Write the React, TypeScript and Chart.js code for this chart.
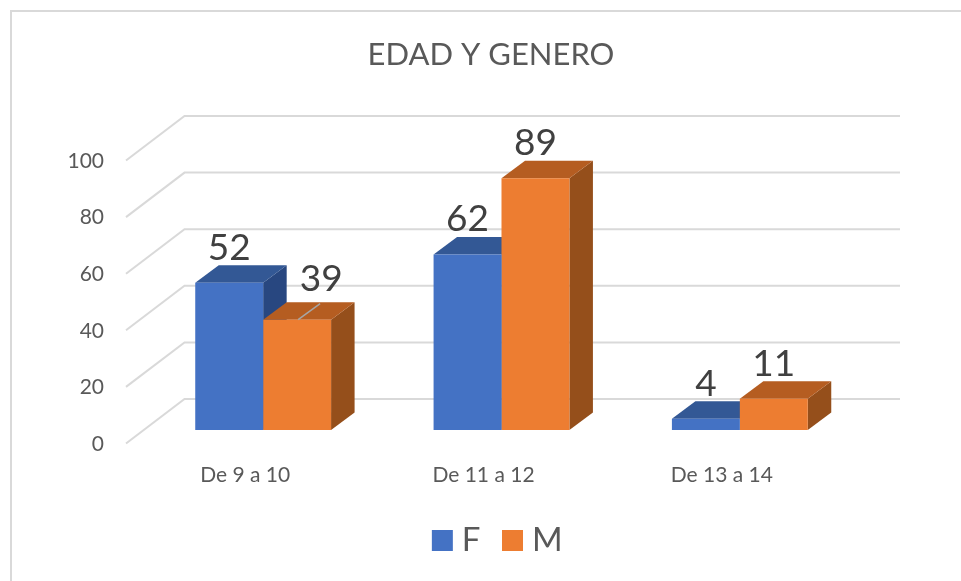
import React, { useEffect, useRef } from "react";
import { Chart, registerables } from "chart.js";

Chart.register(...registerables);

const categories = ["De 9 a 10", "De 11 a 12", "De 13 a 14"];
const femaleValues = [52, 62, 4];
const maleValues = [39, 89, 11];
const titleText = "EDAD Y GENERO";

const FONT = "Lato, 'Open Sans', sans-serif";
const FRONT = ["#4472C4", "#ED7D31"];
const TOP = ["#335895", "#B55D21"];
const SIDE = ["#284780", "#954F1B"];
const DEPTH_X = 23.5;
const DEPTH_Y = -17.5;

function poly(ctx: CanvasRenderingContext2D, pts: number[][], fill: string) {
  ctx.fillStyle = fill;
  ctx.beginPath();
  pts.forEach((p, i) => (i ? ctx.lineTo(p[0], p[1]) : ctx.moveTo(p[0], p[1])));
  ctx.closePath();
  ctx.fill();
}

const threeD = {
  id: "threeD",
  afterLayout(chart: any) {
    chart.titleBlock.left = 0;
    chart.titleBlock.right = 982;
    chart.legend.left = 0;
    chart.legend.right = 1002;
    chart.legend.top = 495;
    chart.legend.bottom = 576;
  },
  beforeDraw(chart: any) {
    const ctx = chart.ctx;
    ctx.save();
    ctx.fillStyle = "#ffffff";
    ctx.fillRect(0, 0, chart.width, chart.height);
    ctx.strokeStyle = "#d9d9d9";
    ctx.lineWidth = 2;
    ctx.beginPath();
    ctx.moveTo(11, chart.height);
    ctx.lineTo(11, 11);
    ctx.lineTo(chart.width, 11);
    ctx.stroke();
    ctx.restore();
  },
  beforeDatasetsDraw(chart: any) {
    const ctx = chart.ctx;
    const { x, y } = chart.scales;
    ctx.save();
    ctx.strokeStyle = "#d9d9d9";
    ctx.lineWidth = 2;
    y.ticks.forEach((t: any) => {
      const py = y.getPixelForValue(t.value);
      ctx.beginPath();
      ctx.moveTo(x.left - 18, py + 13.5);
      ctx.lineTo(x.left + 40.5, py - 31);
      ctx.lineTo(x.right + 41, py - 31);
      ctx.stroke();
    });
    chart.data.datasets.forEach((_: any, d: number) => {
      chart.getDatasetMeta(d).data.forEach((bar: any) => {
        const half = bar.width / 2;
        const l = bar.x - half;
        const r = bar.x + half;
        poly(ctx, [[r, bar.y], [r + DEPTH_X, bar.y + DEPTH_Y], [r + DEPTH_X, bar.base + DEPTH_Y], [r, bar.base]], SIDE[d]);
        poly(ctx, [[l, bar.y], [r, bar.y], [r + DEPTH_X, bar.y + DEPTH_Y], [l + DEPTH_X, bar.y + DEPTH_Y]], TOP[d]);
      });
    });
    ctx.restore();
  },
  afterDatasetsDraw(chart: any) {
    const ctx = chart.ctx;
    ctx.save();
    ctx.font = `37px ${FONT}`;
    ctx.fillStyle = "#404040";
    ctx.textAlign = "center";
    ctx.textBaseline = "middle";
    chart.data.datasets.forEach((ds: any, d: number) => {
      chart.getDatasetMeta(d).data.forEach((bar: any, i: number) => {
        const moved = d === 1 && i === 0;
        if (moved) {
          ctx.strokeStyle = "#a6a6a6";
          ctx.lineWidth = 1.5;
          ctx.beginPath();
          ctx.moveTo(bar.x + 1, bar.y);
          ctx.lineTo(bar.x + 23, bar.y - 16);
          ctx.stroke();
        }
        ctx.fillText(String(ds.data[i]), bar.x + (moved ? 24 : 0), bar.y - (moved ? 41 : 35));
      });
    });
    ctx.restore();
  },
};

export default function App() {
  const ref = useRef<HTMLCanvasElement>(null);
  useEffect(() => {
    const chart = new Chart(ref.current!, {
      type: "bar",
      data: {
        labels: categories,
        datasets: [
          { label: "F", data: femaleValues, backgroundColor: FRONT[0], borderWidth: 0 },
          { label: "M", data: maleValues, backgroundColor: FRONT[1], borderWidth: 0 },
        ],
      },
      options: {
        responsive: false,
        animation: false,
        layout: { padding: { left: 0, right: 102, top: 0, bottom: 0 } },
        datasets: { bar: { barPercentage: 1, categoryPercentage: 0.57 } },
        plugins: {
          tooltip: { enabled: false },
          title: {
            display: true,
            text: titleText,
            color: "#595959",
            font: { family: FONT, size: 31, weight: "normal" },
            padding: { top: 36.5, bottom: 73.3 },
          },
          legend: {
            position: "bottom",
            labels: {
              usePointStyle: true,
              pointStyle: "rect",
              boxWidth: 6,
              boxHeight: 21,
              padding: 29,
              color: "#595959",
              font: { family: FONT, size: 33 },
            },
          },
        },
        scales: {
          x: {
            grid: { display: false },
            border: { display: false },
            afterFit(s: any) {
              s.height = 79;
            },
            ticks: {
              color: "#595959",
              font: { family: FONT, size: 21 },
              padding: 25,
              labelOffset: -18,
              maxRotation: 0,
              autoSkip: false,
            },
          },
          y: {
            min: 0,
            max: 100,
            grid: { display: false },
            border: { display: false },
            afterFit(s: any) {
              s.width = 144;
            },
            ticks: {
              stepSize: 20,
              color: "#595959",
              font: { family: FONT, size: 21 },
              padding: 32,
              labelOffset: 14,
            },
          },
        },
      },
      plugins: [threeD],
    } as any);
    return () => chart.destroy();
  }, []);
  return (
    <div style={{ position: "absolute", left: 0, top: 0, width: 961, height: 581 }}>
      <canvas ref={ref} width={961} height={581} style={{ display: "block" }} />
    </div>
  );
}
